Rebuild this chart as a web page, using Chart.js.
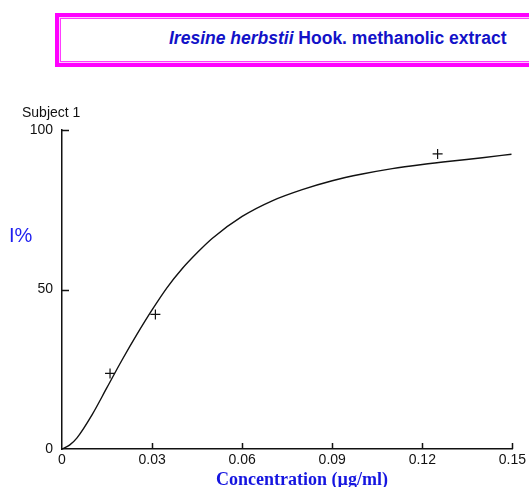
<!DOCTYPE html>
<html lang="en">
<head>
    <meta charset="UTF-8">
    <title>Iresine herbstii Hook. methanolic extract</title>
    <script src="https://cdn.jsdelivr.net/npm/chart.js"></script>
    <style>
        body {
            margin: 0;
            background: #fff;
            font-family: 'Liberation Sans', Arial, sans-serif;
        }
        .wrap {
            position: relative;
            width: 529px;
            height: 487px;
            overflow: hidden;
        }
        .title-box {
            position: absolute;
            left: 55px;
            top: 13px;
            width: 500px;
            height: 46px;
            border: 4px solid #ff00ff;
            box-shadow: inset 0 0 0 1px #ffc8ff, inset 0 0 0 2px #ff3cff;
            background: #fff;
        }
        .title {
            position: absolute;
            left: 169px;
            top: 28px;
            line-height: 20px;
            font-size: 17.5px;
            font-weight: bold;
            color: #1212c8;
            white-space: nowrap;
        }
        .subject {
            position: absolute;
            left: 22px;
            top: 104px;
            font-size: 14px;
            line-height: 16px;
            color: #111;
        }
        .ylabel {
            position: absolute;
            left: 9px;
            top: 223px;
            font-size: 20px;
            line-height: 24px;
            color: #1e1ef0;
        }
        .xlabel {
            position: absolute;
            left: 202px;
            width: 200px;
            top: 470px;
            text-align: center;
            font-family: 'Liberation Serif', 'Times New Roman', serif;
            font-weight: bold;
            font-size: 18px;
            line-height: 18px;
            color: #1515e0;
            white-space: nowrap;
        }
        canvas { position: absolute; left: 0; top: 0; }
    </style>
</head>
<body>
    <div class="wrap">
        <canvas id="chart" width="529" height="487"></canvas>
        <div class="title-box"></div>
        <div class="title"><i>Iresine herbstii</i> Hook. methanolic extract</div>
        <div class="subject">Subject 1</div>
        <div class="ylabel">I%</div>
        <div class="xlabel">Concentration (µg/ml)</div>
    </div>

    <script>
        // fitted curve
        const fitConc = [0, 0.0025, 0.005, 0.01, 0.015, 0.02, 0.025, 0.03, 0.035, 0.04, 0.045, 0.05,
                         0.06, 0.07, 0.08, 0.09, 0.10, 0.11, 0.12, 0.13, 0.14, 0.1497];
        const fitInhib = [0, 1.2, 3.5, 10.7, 19.3, 27.9, 36, 43.6, 50.6, 56.5, 61.5, 66,
                          72.9, 77.8, 81.3, 84.1, 86.2, 87.9, 89.2, 90.3, 91.3, 92.4];

        // measured points (+)
        const obsConc = [0.016, 0.0311, 0.1251];
        const obsInhib = [23.7, 42.2, 92.5];

        const xTicks = [0, 0.03, 0.06, 0.09, 0.12, 0.15];
        const yTicks = [0, 50, 100];

        const toPoints = (xs, ys) => xs.map((x, i) => ({ x: x, y: ys[i] }));

        // short tick marks pointing into the plot
        const innerTicks = {
            id: 'innerTicks',
            afterDraw(chart) {
                const ctx = chart.ctx;
                const area = chart.chartArea;
                const xs = chart.scales.x;
                const ys = chart.scales.y;
                ctx.save();
                ctx.strokeStyle = '#111';
                ctx.lineWidth = 1.5;
                ctx.beginPath();
                xTicks.forEach(v => {
                    if (v === 0) return;
                    const px = Math.round(xs.getPixelForValue(v)) + 0.5;
                    ctx.moveTo(px, area.bottom);
                    ctx.lineTo(px, area.bottom - 6);
                });
                yTicks.forEach(v => {
                    if (v === 0) return;
                    const py = Math.round(ys.getPixelForValue(v)) + 0.5;
                    ctx.moveTo(area.left, py);
                    ctx.lineTo(area.left + 7, py);
                });
                ctx.stroke();
                ctx.restore();
            }
        };

        const tickFont = { family: "'Liberation Sans', Arial, sans-serif", size: 14 };

        new Chart(document.getElementById('chart').getContext('2d'), {
            type: 'scatter',
            data: {
                datasets: [{
                    type: 'line',
                    data: toPoints(fitConc, fitInhib),
                    borderColor: '#111',
                    borderWidth: 1.4,
                    pointRadius: 0,
                    cubicInterpolationMode: 'monotone',
                    fill: false,
                    clip: false
                }, {
                    data: toPoints(obsConc, obsInhib),
                    pointStyle: 'cross',
                    pointRadius: 5,
                    borderColor: '#111',
                    backgroundColor: '#111',
                    borderWidth: 1.2
                }]
            },
            options: {
                responsive: false,
                animation: false,
                devicePixelRatio: 1,
                layout: { padding: { top: 130, right: 15, bottom: 0, left: 0 } },
                plugins: {
                    legend: { display: false },
                    tooltip: { enabled: false }
                },
                scales: {
                    x: {
                        type: 'linear',
                        min: 0,
                        max: 0.15,
                        afterBuildTicks: s => { s.ticks = xTicks.map(v => ({ value: v })); },
                        afterFit: s => { s.height = 38; },
                        grid: { display: false, drawTicks: false },
                        border: { display: true, color: '#111', width: 1.5 },
                        ticks: {
                            padding: 3,
                            color: '#111',
                            font: tickFont,
                            maxRotation: 0,
                            callback: v => v === 0 ? '0' : v.toFixed(2)
                        }
                    },
                    y: {
                        type: 'linear',
                        min: 0,
                        max: 100,
                        afterBuildTicks: s => { s.ticks = yTicks.map(v => ({ value: v })); },
                        afterFit: s => { s.width = 62; },
                        grid: { display: false, drawTicks: false },
                        border: { display: true, color: '#111', width: 1.5 },
                        ticks: {
                            padding: 9,
                            color: '#111',
                            font: tickFont
                        }
                    }
                }
            },
            plugins: [innerTicks]
        });
    </script>
</body>
</html>
